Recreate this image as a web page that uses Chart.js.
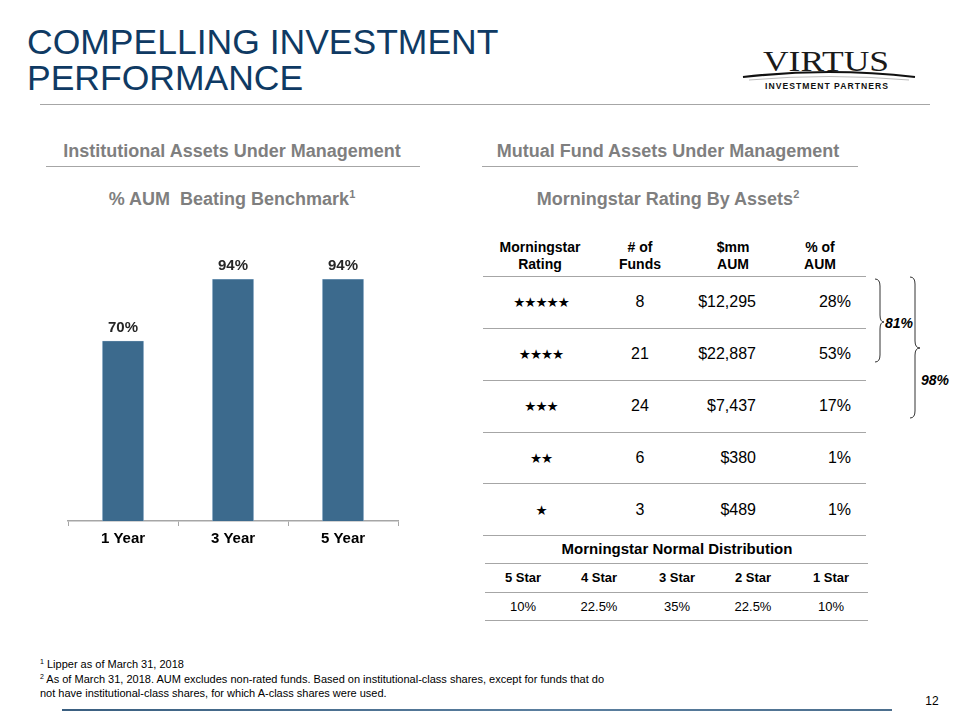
<!DOCTYPE html>
<html>
<head>
<meta charset="utf-8">
<script src="https://cdn.jsdelivr.net/npm/chart.js@4"></script>
<style>
  body { margin: 0; background: #fff; }
  #slide { position: relative; width: 960px; height: 720px; overflow: hidden; font-family: "Liberation Sans", Arial, sans-serif; }
  .t { position: absolute; white-space: nowrap; }
  .hr { position: absolute; height: 0; border-top: 1.5px solid #a6a6a6; }
  #chartBox { position: absolute; left: 60px; top: 230px; width: 346px; height: 330px; }
  .title { position: absolute; left: 27px; font-size: 35.5px; line-height: 35px; height: 35px; color: #0f3a63; white-space: nowrap; }
</style>
</head>
<body>
<div id="slide">
  <div class="title" style="top:25px;">COMPELLING INVESTMENT</div>
  <div class="title" style="top:61px;">PERFORMANCE</div>
  <div class="hr" style="left:40px;top:104px;width:890px;"></div>

  <svg style="position:absolute;left:735px;top:40px;" width="200" height="60">
    <text x="28" y="31" font-family="Liberation Serif, serif" font-size="29" textLength="126" lengthAdjust="spacingAndGlyphs" fill="#1a1a1a">VIRTUS</text>
    <path d="M8 37 Q94 27 180 37" stroke="#111" stroke-width="2.2" fill="none"/>
    <path d="M14 40 Q94 33 174 40" stroke="#aaa" stroke-width="0.8" fill="none"/>
    <text x="30" y="49" font-family="Liberation Sans, Arial, sans-serif" font-size="8.6" font-weight="bold" textLength="123" lengthAdjust="spacing" fill="#111">INVESTMENT PARTNERS</text>
  </svg>

  <div id="chartBox"><canvas id="barChart"></canvas></div>
</div>

<script>
// --- data ---
const periods = ['1 Year', '3 Year', '5 Year'];
const pctBeating = [70, 94, 94];

const ratingStars = ['★★★★★', '★★★★', '★★★', '★★', '★'];
const fundCounts = ['8', '21', '24', '6', '3'];
const aumMM = ['$12,295', '$22,887', '$7,437', '$380', '$489'];
const aumPct = ['28%', '53%', '17%', '1%', '1%'];

const normalLabels = ['5 Star', '4 Star', '3 Star', '2 Star', '1 Star'];
const normalPct = ['10%', '22.5%', '35%', '22.5%', '10%'];

const slide = document.getElementById('slide');

// place text; align: 'l' | 'c' | 'r' relative to x, y is vertical centre
function place(text, x, y, style, align) {
    const d = document.createElement('div');
    d.className = 't';
    d.innerHTML = text;
    d.style.cssText += style;
    d.style.left = x + 'px';
    d.style.top = y + 'px';
    const tx = align === 'c' ? '-50%' : (align === 'r' ? '-100%' : '0');
    d.style.transform = 'translate(' + tx + ',-50%)';
    slide.appendChild(d);
    return d;
}
function hline(x, y, w, color) {
    const d = document.createElement('div');
    d.className = 'hr';
    d.style.left = x + 'px';
    d.style.top = y + 'px';
    d.style.width = w + 'px';
    if (color) d.style.borderTopColor = color;
    slide.appendChild(d);
}

const gray = 'color:#7f7f7f;font-weight:bold;font-size:18px;';
place('Institutional Assets Under Management', 232, 151, gray, 'c');
hline(46, 166, 374);
place('% AUM&nbsp; Beating Benchmark<sup style="font-size:11px;">1</sup>', 232, 199, gray, 'c');

place('Mutual Fund Assets Under Management', 668, 151, gray, 'c');
hline(482, 166, 376);
place('Morningstar Rating By Assets<sup style="font-size:11px;">2</sup>', 668, 199, gray, 'c');

// rating table header
const hdr = 'font-weight:bold;font-size:14px;line-height:17px;text-align:center;color:#000;';
place('Morningstar<br>Rating', 540, 256, hdr, 'c');
place('# of<br>Funds', 640, 256, hdr, 'c');
place('$mm<br>AUM', 733, 256, hdr, 'c');
place('% of<br>AUM', 820, 256, hdr, 'c');

const lineYs = [276, 328, 380, 432, 483, 535];
lineYs.forEach(y => hline(483, y, 383));

const cell = 'font-size:16px;color:#000;';
ratingStars.forEach((s, i) => {
    const y = 302 + 52 * i;
    place(s, 541, y, 'font-size:13.5px;letter-spacing:-1px;color:#000;font-family:DejaVu Sans,sans-serif;', 'c');
    place(fundCounts[i], 640, y, cell, 'c');
    place(aumMM[i], 756, y, cell, 'r');
    place(aumPct[i], 851, y, cell, 'r');
});

// braces
const svgNS = 'http://www.w3.org/2000/svg';
const br = document.createElementNS(svgNS, 'svg');
br.setAttribute('width', '60');
br.setAttribute('height', '160');
br.style.cssText = 'position:absolute;left:870px;top:270px;';
br.innerHTML =
    '<path d="M5 9 Q10 9 10 16 L10 45 Q10 52 14 52 Q10 52 10 59 L10 85 Q10 92 5 92" stroke="#333" stroke-width="1" fill="none"/>' +
    '<path d="M40 7 Q45 7 45 14 L45 71 Q45 78 50 78 Q45 78 45 85 L45 141 Q45 148 40 148" stroke="#333" stroke-width="1" fill="none"/>';
slide.appendChild(br);
place('81%', 885, 323, 'font-size:14px;font-weight:bold;font-style:italic;color:#000;', 'l');
place('98%', 921, 380, 'font-size:14px;font-weight:bold;font-style:italic;color:#000;', 'l');

// normal distribution
place('Morningstar Normal Distribution', 677, 548, 'font-size:15px;font-weight:bold;color:#000;', 'c');
hline(485, 563, 383);
hline(485, 592, 383);
hline(485, 620, 383);
const ndX = [523, 599, 677, 753, 831];
normalLabels.forEach((l, i) => {
    place(l, ndX[i], 577, 'font-size:13px;font-weight:bold;color:#000;', 'c');
    place(normalPct[i], ndX[i], 606, 'font-size:13px;color:#000;', 'c');
});

// footnotes
const fn = 'font-size:11px;color:#000;';
place('<sup style="font-size:7px;">1</sup> Lipper as of March 31, 2018', 40, 664, fn, 'l');
place('<sup style="font-size:7px;">2</sup> As of March 31, 2018. AUM excludes non-rated funds. Based on institutional-class shares, except for funds that do', 40, 679, fn, 'l');
place('not have institutional-class shares, for which A-class shares were used.', 40, 693, fn, 'l');
place('12', 932, 701, 'font-size:12px;color:#000;', 'c');

const bl = document.createElement('div');
bl.style.cssText = 'position:absolute;left:62px;top:709px;width:830px;height:2px;background:linear-gradient(to right,#3a5f80,#5b7f9f 60%,#4c6f8e);';
slide.appendChild(bl);

// value labels above bars
const barLabels = {
    id: 'barLabels',
    afterDatasetsDraw(chart) {
        const c = chart.ctx;
        const meta = chart.getDatasetMeta(0);
        c.save();
        c.font = 'bold 15px "Liberation Sans", Arial, sans-serif';
        c.fillStyle = '#262626';
        c.textAlign = 'center';
        c.textBaseline = 'bottom';
        meta.data.forEach((bar, i) => {
            c.fillText(pctBeating[i] + '%', bar.x, bar.y - 6);
        });
        c.restore();
    }
};

new Chart(document.getElementById('barChart'), {
    type: 'bar',
    data: {
        labels: periods,
        datasets: [{
            data: pctBeating,
            backgroundColor: '#3c6a8d',
            borderColor: '#8fb0cc',
            borderWidth: 0.5,
            barThickness: 41,
        }]
    },
    options: {
        responsive: true,
        maintainAspectRatio: false,
        animation: false,
        layout: { padding: { left: 8, right: 8, top: 34, bottom: 0 } },
        plugins: { legend: { display: false }, tooltip: { enabled: false } },
        scales: {
            y: { display: false, min: 0, max: 100 },
            x: {
                grid: { offset: true, drawOnChartArea: false, drawTicks: true, tickLength: 5, color: '#a6a6a6' },
                border: { display: true, color: '#a6a6a6', width: 1.5 },
                ticks: { color: '#000', font: { family: '"Liberation Sans", Arial', size: 15, weight: 'bold' }, padding: 4 },
                afterFit: (axis) => { axis.height = 39; }
            }
        }
    },
    plugins: [barLabels]
});
</script>
</body>
</html>
